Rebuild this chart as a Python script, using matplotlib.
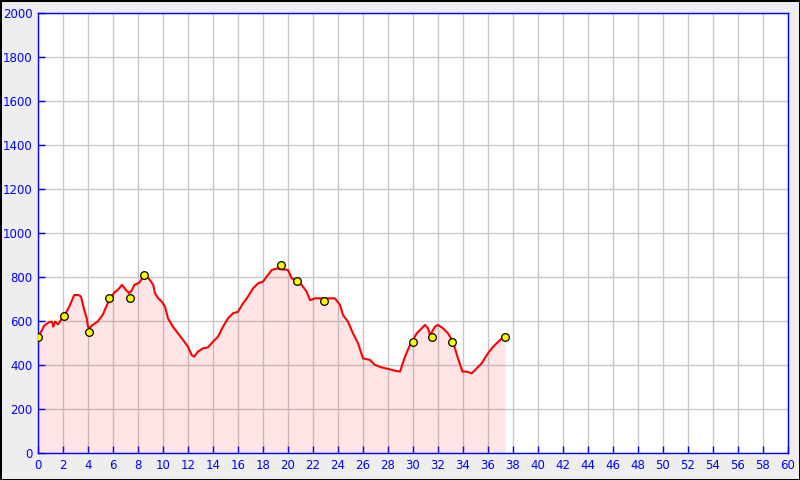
import matplotlib.pyplot as plt
import numpy as np

# elevation profile (km, m)
dist = [0, 0.24, 0.5, 0.9, 1.12, 1.22, 1.36, 1.6, 1.84, 2.1, 2.5, 2.9, 3.25, 3.44,
        3.7, 3.9, 4.0, 4.1, 4.37, 4.77, 5.17, 5.57, 5.84, 6.1, 6.37, 6.72, 7.04,
        7.3, 7.52, 7.7, 8.1, 8.42, 8.7, 8.96, 9.22, 9.36, 9.62, 9.9, 10.16, 10.4,
        10.8, 11.2, 11.6, 12.0, 12.3, 12.5, 12.8, 13.2, 13.6, 14.0, 14.4, 14.8,
        15.2, 15.6, 16.0, 16.4, 16.7, 17.2, 17.6, 18.0, 18.3, 18.7, 19.1, 19.36,
        20.0, 20.3, 20.7, 21.1, 21.5, 21.76, 22.16, 22.56, 23.2, 23.76, 24.16,
        24.4, 24.8, 25.2, 25.6, 26.0, 26.56, 26.96, 27.5, 28.16, 28.56, 28.96,
        29.36, 29.76, 30.3, 30.7, 30.96, 31.2, 31.36, 31.76, 32.0, 32.4, 32.8,
        33.2, 33.6, 33.96, 34.3, 34.7, 35.1, 35.5, 35.9, 36.3, 36.7, 37.1, 37.36]
elev = [527, 550, 579, 595, 597, 574, 597, 585, 605, 623, 665, 718, 718, 711,
        650, 612, 574, 568, 582, 597, 627, 680, 703, 730, 741, 764, 741,
        726, 741, 764, 774, 802, 802, 786, 764, 726, 703, 688, 665, 612,
        574, 544, 514, 483, 445, 438, 461, 476, 480, 506, 529, 574,
        612, 635, 642, 680, 703, 748, 771, 779, 802, 832, 839, 836,
        832, 794, 782, 764, 733, 695, 703, 703, 703, 703, 673,
        627, 597, 544, 499, 430, 423, 400, 389, 380, 374, 370,
        438, 491, 544, 567, 582, 567, 536, 574, 582, 567, 544,
        506, 430, 370, 370, 362, 385, 408, 445, 476, 499, 521, 532]

# waypoints
wp_dist = [0, 2.08, 4.08, 5.68, 7.36, 8.48, 19.44, 20.72, 22.88, 30.0, 31.5, 33.1, 37.36]
wp_elev = [527, 623, 550, 705, 705, 809, 855, 782, 691, 505, 527, 505, 527]

blue = "#0000ff"

fig = plt.figure(figsize=(8, 4.8), dpi=100, facecolor="#eeeeee",
                 edgecolor="black", linewidth=2)
ax = fig.add_axes([38 / 800, 27 / 480, 750 / 800, 440 / 480])
ax.set_facecolor("white")

ax.set_xlim(0, 60)
ax.set_ylim(0, 2000)
ax.set_xticks(np.arange(0, 61, 2))
ax.set_yticks(np.arange(0, 2001, 200))
ax.grid(True, color="#c8c8c8", linewidth=1)
ax.set_axisbelow(True)

ax.fill_between(dist, elev, 0, color="red", alpha=0.1, linewidth=0, zorder=2)
ax.plot(dist, elev, color="red", linewidth=1.5, zorder=3)
ax.plot(wp_dist, wp_elev, "o", markersize=5.5, markerfacecolor="yellow",
        markeredgecolor="black", markeredgewidth=0.9, zorder=4)

for s in ax.spines.values():
    s.set_color(blue)
    s.set_linewidth(1.0)
ax.tick_params(direction="in", length=5, width=1.0, color=blue,
               labelcolor=blue, labelsize=8.5, pad=4)

fig.savefig("out.png", dpi=100, facecolor=fig.get_facecolor(),
            edgecolor=fig.get_edgecolor())
